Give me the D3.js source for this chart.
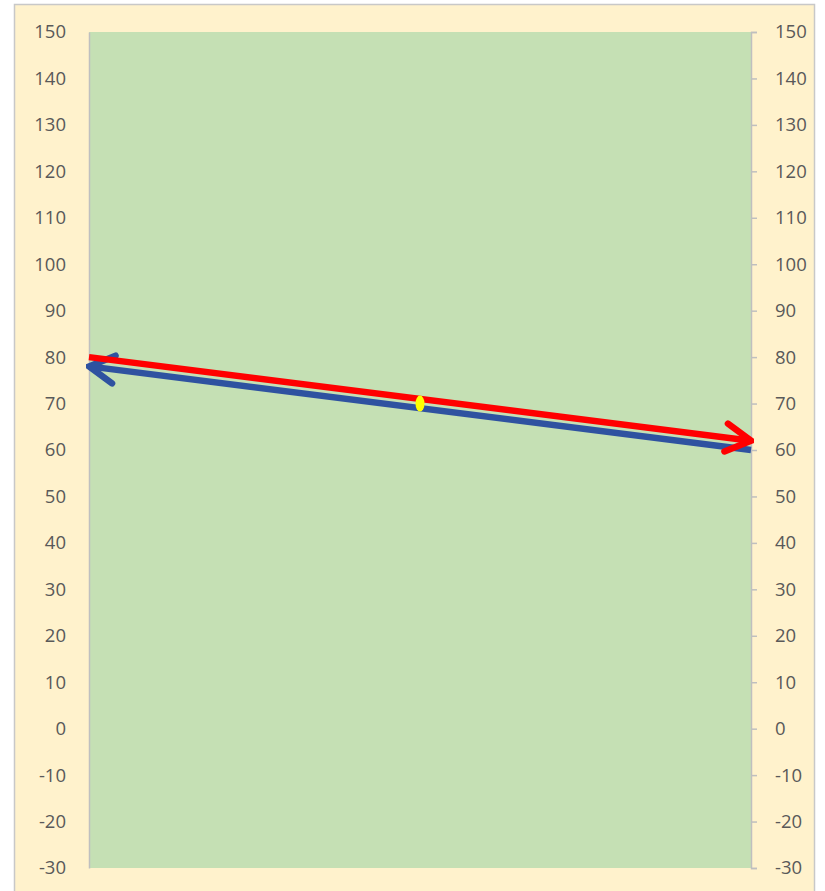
<!DOCTYPE html>
<html>
<head>
<meta charset="utf-8">
<script src="https://cdn.jsdelivr.net/npm/d3@7"></script>
<style>
  body { margin: 0; background: #ffffff; }
  text { font-family: "Open Sans", "Noto Sans", sans-serif; }
</style>
</head>
<body>
<div class="chart"></div>
<script>
// values
const yTicks = [150, 140, 130, 120, 110, 100, 90, 80, 70, 60, 50, 40, 30, 20, 10, 0, -10, -20, -30];
const redLine = [{x: 0, y: 80}, {x: 1, y: 62}];   // arrow at the right end
const blueLine = [{x: 1, y: 60}, {x: 0, y: 78}];  // arrow at the left end
const midPoint = [{x: 0.5, y: 70}];

function drawChart() {
  const width = 825;
  const height = 891;
  const plot = {left: 89, right: 751, top: 32, bottom: 868};

  const svg = d3.select(".chart").append("svg")
    .attr("width", width)
    .attr("height", height);

  // chart area
  svg.append("rect")
    .attr("x", 14.5).attr("y", 4.5)
    .attr("width", 800).attr("height", 900)
    .attr("fill", "#fff2cc")
    .attr("stroke", "#c8c8c8")
    .attr("stroke-width", 1.5);

  svg.append("rect")
    .attr("x", plot.left).attr("y", plot.top)
    .attr("width", plot.right - plot.left)
    .attr("height", plot.bottom - plot.top)
    .attr("fill", "#c5e0b4");

  const xScale = d3.scaleLinear()
    .domain([0, 1])
    .range([plot.left, plot.right]);

  const yScale = d3.scaleLinear()
    .domain([-30, 150])
    .range([plot.bottom, plot.top]);

  const fmt = d => String(d);
  const leftAxis = d3.axisLeft(yScale).tickValues(yTicks).tickFormat(fmt).tickSize(0).tickPadding(23);
  const rightAxis = d3.axisRight(yScale).tickValues(yTicks).tickFormat(fmt).tickSize(6).tickPadding(18);

  const gl = svg.append("g")
    .attr("transform", `translate(${plot.left}, 0)`)
    .call(leftAxis);
  const gr = svg.append("g")
    .attr("transform", `translate(${plot.right}, 0)`)
    .call(rightAxis);

  [gl, gr].forEach(g => {
    g.select(".domain").attr("stroke", "#bfbfbf").attr("stroke-width", 1.5);
    g.selectAll(".tick line").attr("stroke", "#bfbfbf").attr("stroke-width", 1.5);
    g.selectAll(".tick text")
      .attr("fill", "#595959")
      .style("font-size", "18.5px");
  });

  // open chevron arrowheads
  const defs = svg.append("defs");
  function addMarker(id, color) {
    defs.append("marker")
      .attr("id", id)
      .attr("viewBox", "0 0 32 36")
      .attr("refX", 29)
      .attr("refY", 18)
      .attr("markerWidth", 32)
      .attr("markerHeight", 36)
      .attr("markerUnits", "userSpaceOnUse")
      .attr("orient", "auto-start-reverse")
      .append("path")
        .attr("d", "M4,4 L29,18 L4,32")
        .attr("fill", "none")
        .attr("stroke", color)
        .attr("stroke-width", 6.5)
        .attr("stroke-linecap", "round")
        .attr("stroke-linejoin", "miter");
  }
  addMarker("arrowRed", "#ff0000");
  addMarker("arrowBlue", "#2f52a0");

  const line = d3.line()
    .x(d => xScale(d.x))
    .y(d => yScale(d.y));

  svg.append("path")
    .attr("d", line(blueLine))
    .attr("fill", "none")
    .attr("stroke", "#2f52a0")
    .attr("stroke-width", 6.5)
    .attr("marker-end", "url(#arrowBlue)");

  svg.append("path")
    .attr("d", line(redLine))
    .attr("fill", "none")
    .attr("stroke", "#ff0000")
    .attr("stroke-width", 6.5)
    .attr("marker-end", "url(#arrowRed)");

  svg.selectAll(".mid")
    .data(midPoint)
    .enter()
    .append("ellipse")
      .attr("cx", d => xScale(d.x))
      .attr("cy", d => yScale(d.y))
      .attr("rx", 4.5)
      .attr("ry", 8)
      .attr("fill", "#ffff00");
}

drawChart();
</script>
</body>
</html>
